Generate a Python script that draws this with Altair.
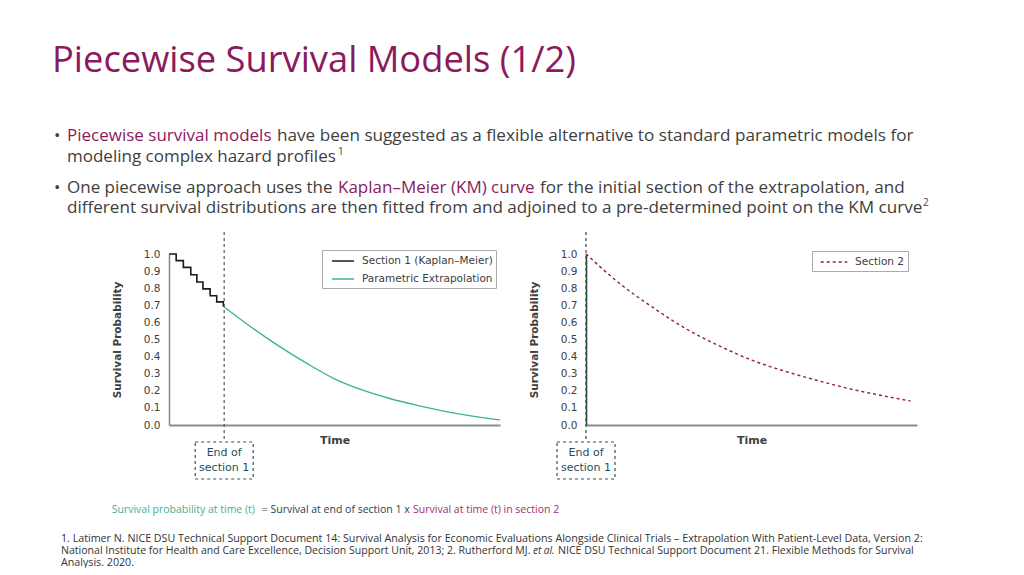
import altair as alt
import pandas as pd

# ---------------- text content ----------------
TITLE = "Piecewise Survival Models (1/2)"
B1_HI = "Piecewise survival models"
B1_REST = "have been suggested as a flexible alternative to standard parametric models for"
B1_L2 = "modeling complex hazard profiles"
B2_A = "One piecewise approach uses the"
B2_HI = "Kaplan\u2013Meier (KM) curve"
B2_B = "for the initial section of the extrapolation, and"
B2_L2 = "different survival distributions are then fitted from and adjoined to a pre-determined point on the KM curve"
F_A = "Survival probability at time (t)"
F_B = "= Survival at end of section 1 x"
F_C = "Survival at time (t) in section 2"
REF1 = "1. Latimer N. NICE DSU Technical Support Document 14: Survival Analysis for Economic Evaluations Alongside Clinical Trials \u2013 Extrapolation With Patient-Level Data, Version 2:"
REF2A = "National Institute for Health and Care Excellence, Decision Support Unit, 2013; 2. Rutherford MJ."
REF2B = "et al."
REF2C = "NICE DSU Technical Support Document 21. Flexible Methods for Survival"
REF3 = "Analysis. 2020."

# ---------------- chart data ----------------
KM_LABEL = "Section 1 (Kaplan\u2013Meier)"
PAR_LABEL = "Parametric Extrapolation"
S2_LABEL = "Section 2"

KM_T = [0, 0.26, 0.52, 0.79, 1.01, 1.23, 1.49, 1.73, 1.97, 2.0]
KM_S = [1.0, 0.961, 0.922, 0.879, 0.836, 0.796, 0.756, 0.720, 0.696, 0.696]

PAR_T = [2, 3, 4, 5, 6, 7, 8, 9, 10, 11, 12]
PAR_S = [0.69, 0.57, 0.46, 0.36, 0.27, 0.205, 0.155, 0.115, 0.08, 0.052, 0.03]

S2_T = [0, 1, 2, 3, 4, 5, 6, 7, 8, 9, 9.8]
S2_S = [1.0, 0.83, 0.69, 0.565, 0.465, 0.38, 0.315, 0.26, 0.21, 0.17, 0.14]

Y_TICKS = [0.0, 0.1, 0.2, 0.3, 0.4, 0.5, 0.6, 0.7, 0.8, 0.9, 1.0]
SECTION1_END_LEFT = 2.0
SECTION1_END_RIGHT = 0.0

# ---------------- styles ----------------
MAGENTA = "#8b1a5c"
GREY = "#404040"
TEAL = "#3bb39a"
DARK_TEAL = "#1f4e5b"
SEC2 = "#8b1d52"
FONT = "Open Sans"
CFONT = "DejaVu Sans"

one = alt.Data(values=[{"a": 1}])


def txt(s, x, y, size, color, weight="normal", style="normal", font=FONT):
    # x, y are pixel offsets from the top-left corner of the left plot area
    return alt.Chart(one).mark_text(
        align="left", baseline="alphabetic", x=x, y=y, font=font,
        fontSize=size, color=color, fontWeight=weight, fontStyle=style
    ).encode(text=alt.value(s))


# page frame (invisible) so the slide keeps its margins
frame = alt.Chart(one).mark_rect(opacity=0).encode(
    x=alt.value(-161), x2=alt.value(831), y=alt.value(-246), y2=alt.value(313)
)

slide_text = [
    txt(TITLE, -117, -182, 36.3, MAGENTA),
    txt("\u2022", -115, -113, 17, GREY),
    txt(B1_HI, -102, -113, 17, MAGENTA),
    txt(B1_REST, 108, -113, 17.15, GREY),
    txt(B1_L2, -102, -92, 17, GREY),
    txt("1", 169, -99, 10, GREY),
    txt("\u2022", -115, -61, 17, GREY),
    txt(B2_A, -102, -61, 17, GREY),
    txt(B2_HI, 169, -61, 17, MAGENTA),
    txt(B2_B, 371, -61, 17.1, GREY),
    txt(B2_L2, -102, -41, 17.1, GREY),
    txt("2", 754, -48, 10, GREY),
    txt(F_A, -57.3, 259.3, 10.5, "#45b096"),
    txt(F_B, 92.7, 259.3, 10.5, "#24434f"),
    txt(F_C, 244, 259.3, 10.5, "#a3306f"),
    txt(REF1, -108, 287.7, 10.7, "#333333"),
    txt(REF2A, -108, 300, 10.55, "#333333"),
    txt(REF2B, 364, 300, 10, "#333333", style="italic"),
    txt(REF2C, 389, 300, 10.6, "#333333"),
    txt(REF3, -108, 311.5, 10.7, "#333333"),
]


# ---------------- plots ----------------
def y_enc(axis_color):
    return alt.Y(
        "s:Q",
        scale=alt.Scale(domain=[0, 1], nice=False),
        axis=alt.Axis(
            values=Y_TICKS, format=".1f", title="Survival Probability",
            grid=False, ticks=False, domainColor=axis_color, domainWidth=1.6,
            labelFont=CFONT, labelFontSize=10.5, labelColor=GREY, labelPadding=9,
            titleFont=CFONT, titleFontSize=10.5, titleFontWeight="bold",
            titleColor=GREY, titlePadding=21,
        ),
    )


def x_enc(domain):
    return alt.X(
        "t:Q",
        scale=alt.Scale(domain=domain, nice=False),
        axis=alt.Axis(
            title="Time", labels=False, ticks=False, grid=False,
            domainColor="#8c8c8c", domainWidth=1.8,
            titleFont=CFONT, titleFontSize=11, titleFontWeight="bold",
            titleColor=GREY, titlePadding=9,
        ),
    )


def legend(lx, ly, path, sym_off, lab_off, dash=None):
    kw = dict(
        orient="none", legendX=lx, legendY=ly, title=None,
        symbolType=path, symbolSize=196, symbolStrokeWidth=1.5,
        symbolOffset=sym_off, strokeColor="#aaaaaa", fillColor="white",
        padding=3, rowPadding=4, labelOffset=lab_off,
        labelExpr="datum.label + '   '",
        labelFont=CFONT, labelFontSize=10.5, labelColor=GREY,
    )
    if dash is not None:
        kw["symbolDash"] = dash
    return alt.Legend(**kw)


def end_marker(tval, line_color):
    rule = alt.Chart(one).mark_rule(
        color=line_color, strokeDash=[3, 3], strokeWidth=1.2
    ).encode(x=alt.datum(tval), y=alt.value(-22), y2=alt.value(188))
    box = alt.Chart(one).mark_rect(
        xOffset=-29, x2Offset=29, fillOpacity=0, stroke="#2e5656",
        strokeDash=[3, 3], strokeWidth=1.2
    ).encode(x=alt.datum(tval), x2=alt.datum(tval), y=alt.value(188), y2=alt.value(225))
    label = alt.Chart(one).mark_text(
        align="center", baseline="middle", lineBreak="\n", lineHeight=15,
        font=CFONT, fontSize=11, color=DARK_TEAL
    ).encode(x=alt.datum(tval), y=alt.value(199), text=alt.value("End of\nsection 1"))
    return rule, box, label


km_df = pd.DataFrame({"t": KM_T, "s": KM_S, "series": KM_LABEL})
par_df = pd.DataFrame({"t": PAR_T, "s": PAR_S, "series": PAR_LABEL})
s2_df = pd.DataFrame({"t": S2_T, "s": S2_S, "series": S2_LABEL})

left_color = alt.Color(
    "series:N",
    scale=alt.Scale(domain=[KM_LABEL, PAR_LABEL], range=["#1a1a1a", TEAL]),
    legend=legend(153, -4, "M-1.57,0H1.57", 10, 11),
)

km_line = alt.Chart(km_df).mark_line(interpolate="step-after", strokeWidth=1.6).encode(
    x=x_enc([0, 12]), y=y_enc("#8c8c8c"), color=left_color
)
par_line = alt.Chart(par_df).mark_line(interpolate="monotone", strokeWidth=1.4).encode(
    x=x_enc([0, 12]), y=y_enc("#8c8c8c"), color=left_color
)
lr, lb, lt = end_marker(SECTION1_END_LEFT, "#555555")
left = alt.layer(frame, km_line, par_line, lr, lb, lt, *slide_text).properties(
    width=331, height=171
)

right_color = alt.Color(
    "series:N",
    scale=alt.Scale(domain=[S2_LABEL], range=[SEC2]),
    legend=legend(226, -3, "M-1.9,0H1.9", 11, 13, dash=[3, 3]),
)
s2_line = alt.Chart(s2_df).mark_line(
    interpolate="monotone", strokeWidth=1.4, strokeDash=[3, 3]
).encode(x=x_enc([0, 10]), y=y_enc("#2c4c48"), color=right_color)
rr, rb, rt = end_marker(SECTION1_END_RIGHT, "#2c4c48")
right = alt.layer(s2_line, rr, rb, rt).properties(width=331, height=171)

chart = alt.hconcat(left, right, spacing=86, bounds="flush").resolve_scale(
    color="independent", x="independent", y="independent"
).properties(padding=0).configure_view(stroke=None)

chart.save("out.html", embed_options={"renderer": "svg", "actions": False})
